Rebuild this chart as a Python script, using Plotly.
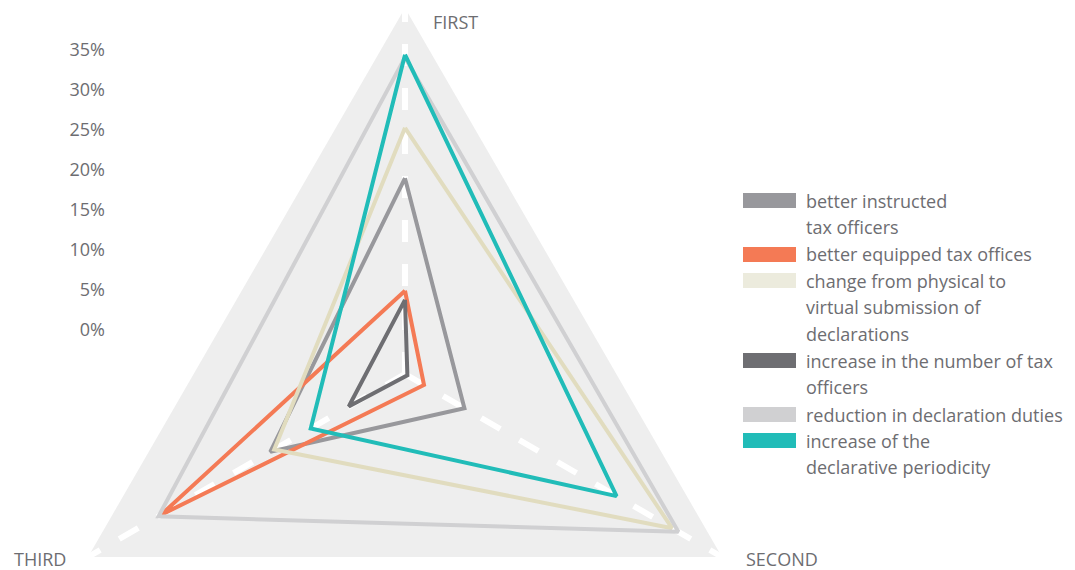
import plotly.graph_objects as go

# ---------------- data ----------------
categories = ["FIRST", "SECOND", "THIRD"]

series_names = [
    "better instructed tax officers",
    "better equipped tax offices",
    "change from physical to virtual submission of declarations",
    "increase in the number of tax officers",
    "reduction in declaration duties",
    "increase of the declarative periodicity",
]
legend_lines = [
    ["better instructed", "tax officers"],
    ["better equipped tax offices"],
    ["change from physical to", "virtual submission of", "declarations"],
    ["increase in the number of tax", "officers"],
    ["reduction in declaration duties"],
    ["increase of the", "declarative periodicity"],
]

better_instructed = [21.4, 7.5, 17.0]
better_equipped = [9.1, 2.4, 30.8]
physical_to_virtual = [26.9, 33.7, 16.5]
more_tax_officers = [8.1, 0.3, 7.1]
reduction_duties = [34.6, 34.5, 31.1]
declarative_periodicity = [34.9, 26.7, 11.9]

radial_ticks = [0, 5, 10, 15, 20, 25, 30, 35]

# ---------------- styles ----------------
line_colors = ["#98989c", "#f47a55", "#e1dcbf", "#6e6e72", "#d0d0d2", "#21bcb8"]
swatch_colors = ["#98989c", "#f47a55", "#ecebdd", "#6e6e72", "#d0d0d2", "#21bcb8"]
text_color = "#6d6d71"
FONT = "Open Sans"
FS = 18

W, H = 1075, 740
T = 8


def px_x(p):
    return p / W


def px_y(p):
    return 1 - (p - T) / (H - T)


all_series = [better_instructed, better_equipped, physical_to_virtual,
              more_tax_officers, reduction_duties, declarative_periodicity]

fig = go.Figure()
for name, vals, color in zip(series_names, all_series, line_colors):
    fig.add_trace(go.Scatterpolar(
        r=vals + vals[:1],
        theta=categories + categories[:1],
        mode="lines",
        line=dict(color=color, width=4),
        name=name,
        showlegend=False,
    ))

# invisible cartesian trace carrying the left-hand percentage scale
fig.add_trace(go.Scatter(x=[0] * len(radial_ticks), y=radial_ticks, mode="none",
                         showlegend=False, hoverinfo="skip"))

annotations = []
shapes = []

# axis category labels
cat_pos = {"FIRST": (455, 22), "SECOND": (782, 559), "THIRD": (40, 559)}
for c in categories:
    x, y = cat_pos[c]
    annotations.append(dict(text=c, x=px_x(x), y=px_y(y), xref="paper", yref="paper",
                            xanchor="center", yanchor="middle", showarrow=False,
                            font=dict(family=FONT, size=FS, color=text_color)))

# manual legend
swatch_y = [200.5, 254.5, 280.5, 360.5, 414.5, 440.5]
line_step = 26.5
for lines, sy, sc in zip(legend_lines, swatch_y, swatch_colors):
    shapes.append(dict(type="rect", xref="paper", yref="paper",
                       x0=px_x(743), x1=px_x(796), y0=px_y(sy - 7.5), y1=px_y(sy + 7.5),
                       fillcolor=sc, line=dict(width=0)))
    for i, t in enumerate(lines):
        annotations.append(dict(text=t, x=px_x(804), y=px_y(sy + i * line_step),
                                xref="paper", yref="paper", xanchor="left", yanchor="middle",
                                showarrow=False,
                                font=dict(family=FONT, size=FS, color=text_color)))

fig.update_layout(
    width=W, height=H,
    margin=dict(l=0, r=0, t=T, b=0),
    paper_bgcolor="white",
    plot_bgcolor="rgba(0,0,0,0)",
    font=dict(family=FONT, size=FS, color=text_color),
    showlegend=False,
    polar=dict(
        domain=dict(x=[px_x(39), px_x(771)], y=[0, 1]),
        bgcolor="#eeeeee",
        gridshape="linear",
        radialaxis=dict(range=[0, 40], visible=False, showgrid=False),
        angularaxis=dict(rotation=90, direction="clockwise", showticklabels=False,
                         ticks="", showline=False, showgrid=True, gridcolor="white",
                         gridwidth=6, griddash="22px,22px",
                         categoryorder="array", categoryarray=categories),
    ),
    xaxis=dict(domain=[px_x(106), px_x(120)], range=[0, 1], visible=False, fixedrange=True),
    yaxis=dict(domain=[0, 1], range=[(330 - H) / 8, (330 - T) / 8], tickvals=radial_ticks,
               ticktext=[f"{v}%" for v in radial_ticks], showgrid=False, zeroline=False,
               showline=False, ticks="", fixedrange=True,
               tickfont=dict(family=FONT, size=FS, color=text_color)),
    annotations=annotations,
    shapes=shapes,
)

fig.write_html("out.html",
               config={"displayModeBar": False},
               post_script="document.body.style.margin='0';document.body.style.overflow='hidden';")
